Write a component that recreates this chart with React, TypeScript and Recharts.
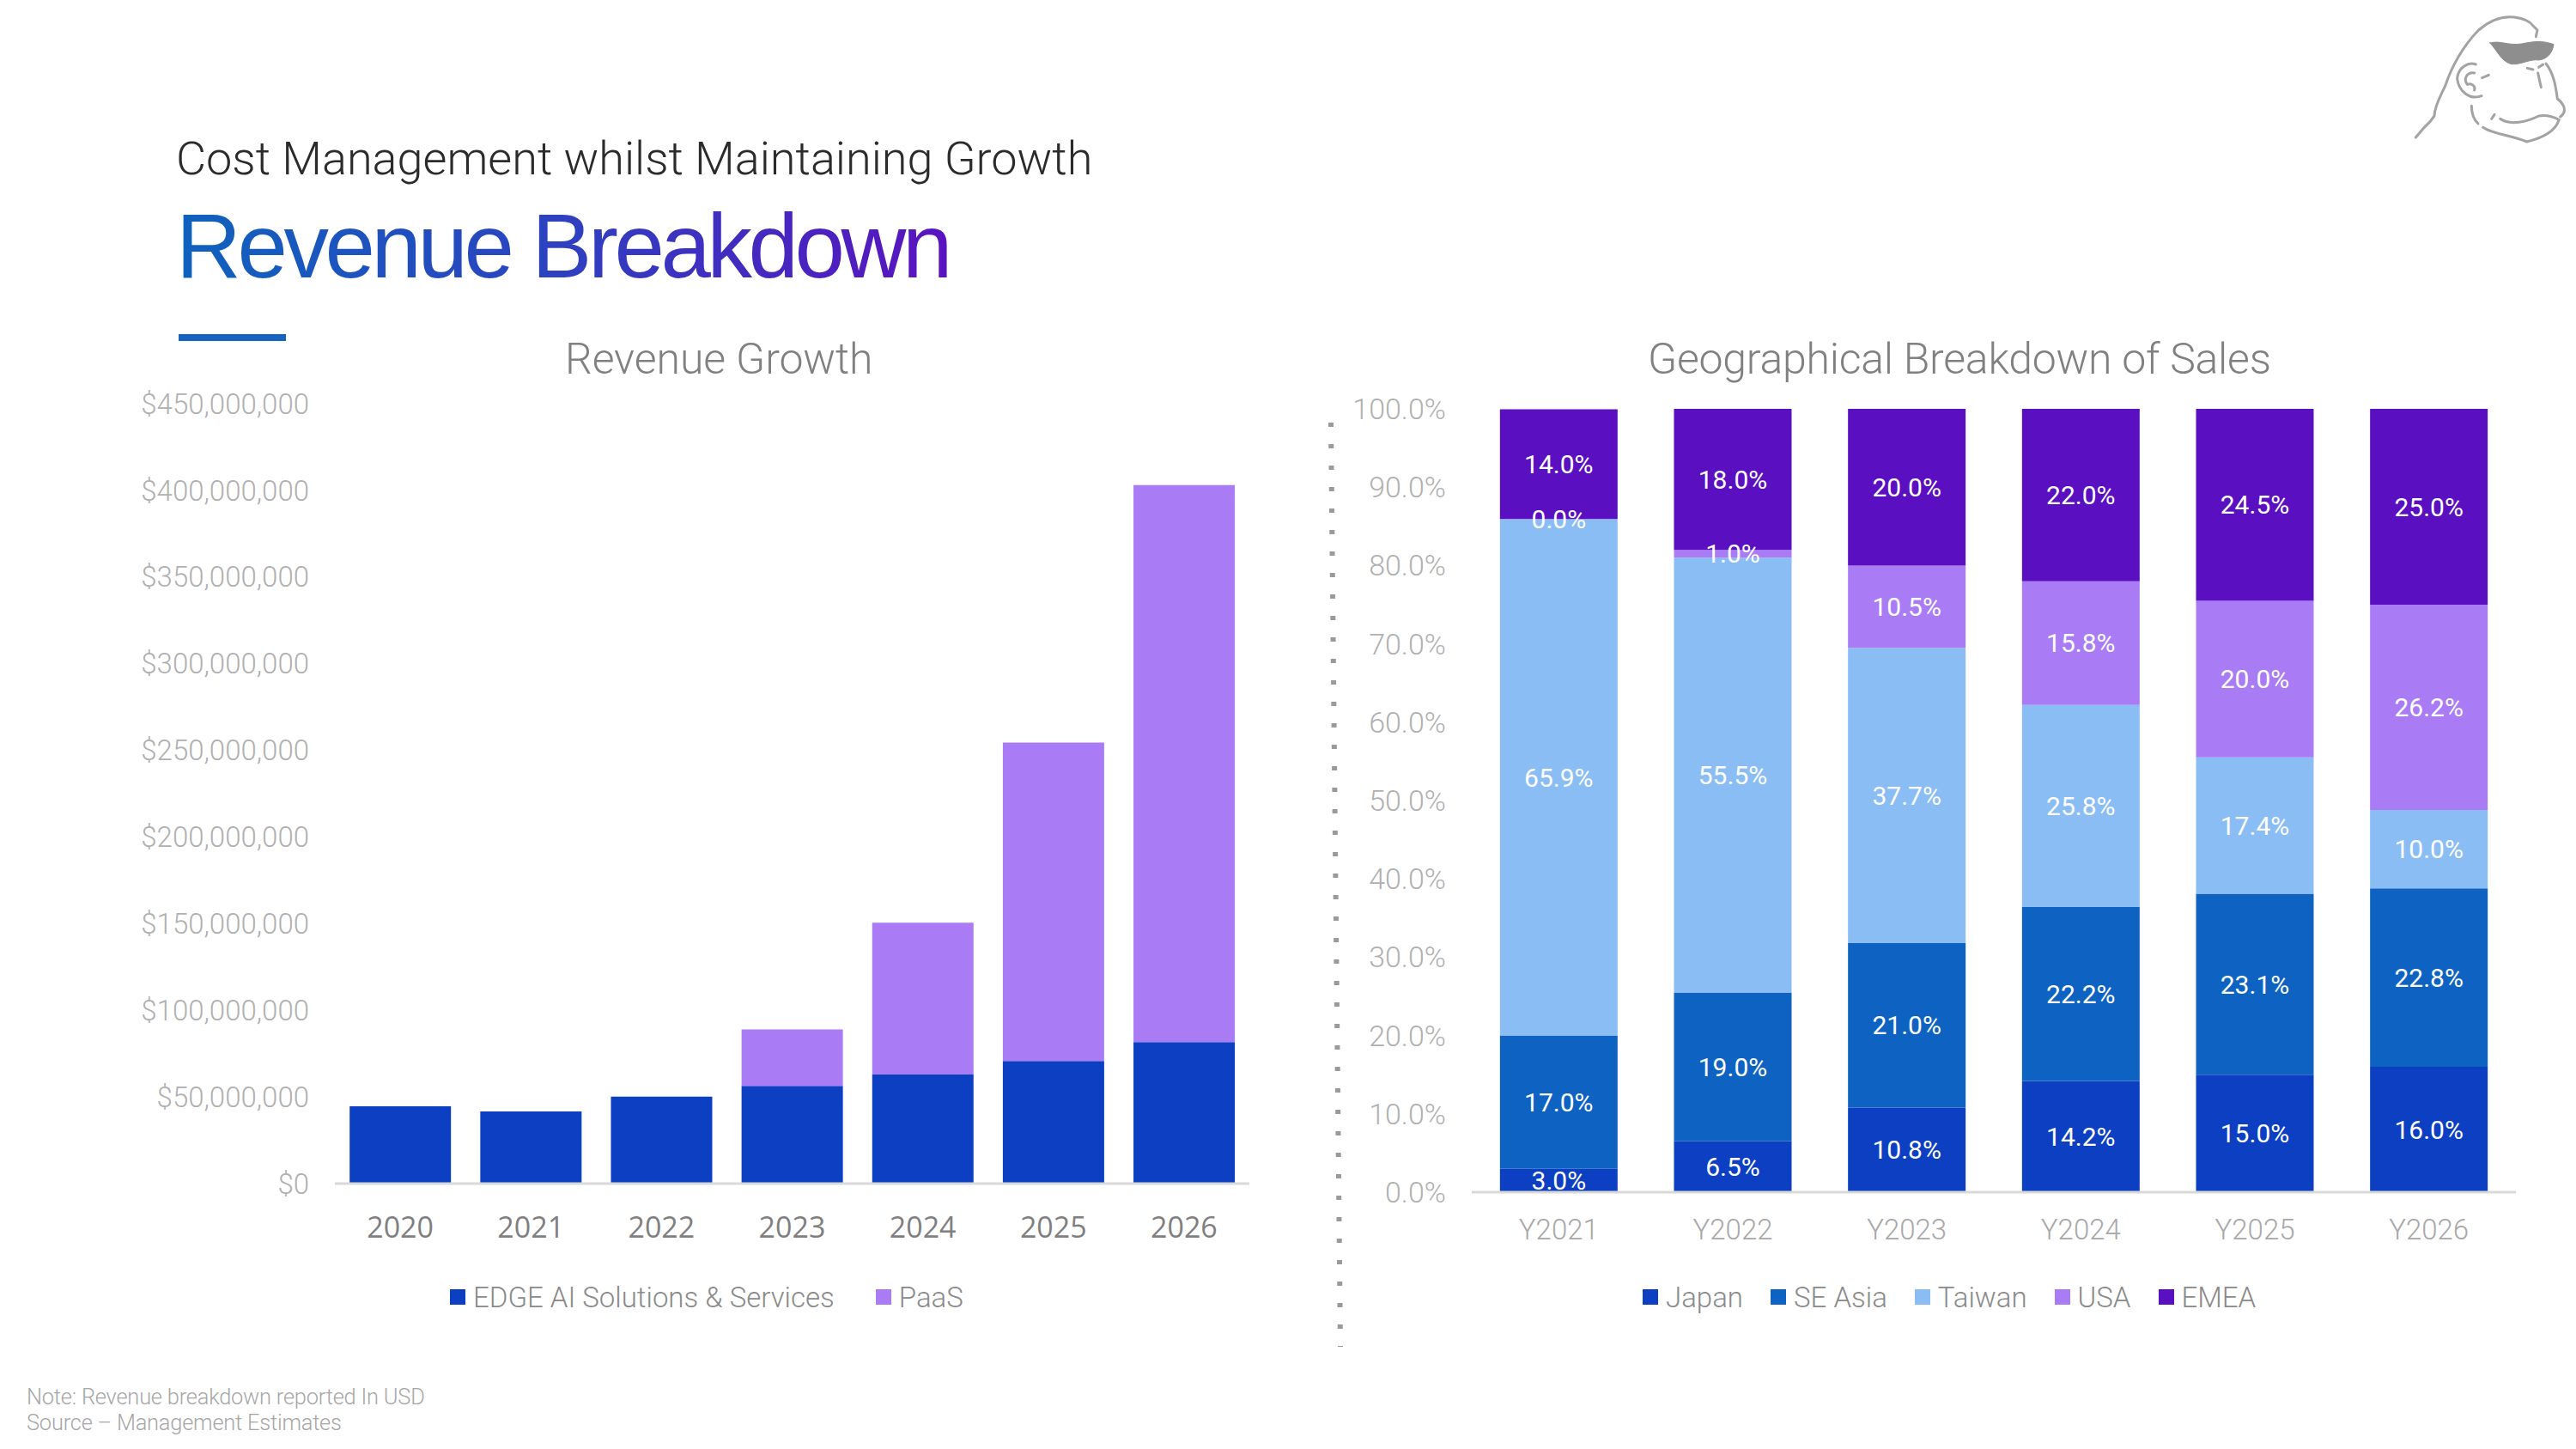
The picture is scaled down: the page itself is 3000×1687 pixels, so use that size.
import { BarChart, Bar, XAxis, YAxis, Legend, LabelList } from 'recharts';

const FONT = 'Roboto, sans-serif';

const YEARS = ['2020', '2021', '2022', '2023', '2024', '2025', '2026'];
const EDGE_AI = [44600000, 41600000, 50200000, 56400000, 63000000, 70800000, 81700000];
const PAAS = [0, 0, 0, 32600000, 87500000, 183700000, 321300000];
const REVENUE_TICKS = [0, 50000000, 100000000, 150000000, 200000000, 250000000, 300000000, 350000000, 400000000, 450000000];

const GEO_YEARS = ['Y2021', 'Y2022', 'Y2023', 'Y2024', 'Y2025', 'Y2026'];
const JAPAN = [3.0, 6.5, 10.8, 14.2, 15.0, 16.0];
const SE_ASIA = [17.0, 19.0, 21.0, 22.2, 23.1, 22.8];
const TAIWAN = [65.9, 55.5, 37.7, 25.8, 17.4, 10.0];
// Y2021 USA reads 0.0%; kept just above zero so the bar keeps its label
const USA = [0.04, 1.0, 10.5, 15.8, 20.0, 26.2];
const EMEA = [14.0, 18.0, 20.0, 22.0, 24.5, 25.0];
const PERCENT_TICKS = [0, 10, 20, 30, 40, 50, 60, 70, 80, 90, 100];

const revenueData = YEARS.map((year, i) => ({ year, edge: EDGE_AI[i], paas: PAAS[i] }));
const geoData = GEO_YEARS.map((year, i) => ({
  year,
  japan: JAPAN[i],
  seAsia: SE_ASIA[i],
  taiwan: TAIWAN[i],
  usa: USA[i],
  emea: EMEA[i],
}));

const GEO_SERIES = [
  { dataKey: 'japan', name: 'Japan', color: '#0d3fc2' },
  { dataKey: 'seAsia', name: 'SE Asia', color: '#0e63c2' },
  { dataKey: 'taiwan', name: 'Taiwan', color: '#8bbdf5' },
  { dataKey: 'usa', name: 'USA', color: '#a97cf5' },
  { dataKey: 'emea', name: 'EMEA', color: '#5a0fc0' },
];

const dollars = (v: number) => `$${v.toLocaleString('en-US')}`;
const percent = (v: number) => `${v.toFixed(1)}%`;

const Text = ({ x, y, size, color, children, weight = 300, spacing = 0 }: any) => (
  <div
    style={{
      position: 'absolute',
      left: x,
      top: y,
      fontFamily: FONT,
      fontSize: size,
      fontWeight: weight,
      color,
      letterSpacing: spacing,
      lineHeight: 1,
      whiteSpace: 'nowrap',
    }}
  >
    {children}
  </div>
);

const legendContent = (gap: number) => ({ payload }: any) => (
  <div style={{ display: 'flex', alignItems: 'center', height: 40, fontFamily: FONT, fontWeight: 300, fontSize: 33, color: '#8a8a8a' }}>
    {(payload || []).map((item: any) => (
      <div key={item.value} style={{ display: 'flex', alignItems: 'center', marginRight: gap }}>
        <div style={{ width: 18, height: 18, background: item.color, marginRight: 9 }} />
        <span>{item.value}</span>
      </div>
    ))}
  </div>
);

const Logo = () => (
  <svg
    viewBox="0 0 660 540"
    width={220}
    height={180}
    style={{ position: 'absolute', left: 2780, top: 0 }}
    fill="none"
    stroke="#a3a3a3"
    strokeWidth={9}
    strokeLinecap="round"
    strokeLinejoin="round"
  >
    <path d="M100 480 L130 445 L150 425 L165 405 C165 370 190 330 205 295 C225 235 265 160 320 105 C360 70 405 55 445 60 C480 65 500 75 510 90 L525 105 L520 128" />
    <path d="M360 150 C395 140 420 160 470 153 C510 145 540 140 582 155 C578 180 565 205 530 210 C500 205 470 226 435 224 C400 216 385 178 360 150 Z" fill="#8e8e8e" stroke="#8e8e8e" strokeWidth={3} />
    <path d="M330 335 C290 350 250 320 245 275 C248 235 285 215 310 225" />
    <path d="M305 255 C280 250 265 275 280 295 C295 290 310 300 305 315" />
    <path d="M332 272 L355 262" />
    <path d="M490 238 L510 243 M530 235 L545 225" />
    <path d="M527 255 L538 305" />
    <path d="M555 222 C585 260 590 310 595 345 C620 365 630 390 605 408" />
    <path d="M395 415 C430 440 490 425 530 405 C560 400 585 410 600 418" />
    <path d="M365 415 L375 400" />
    <path d="M295 370 C295 400 305 420 318 432" />
    <path d="M335 445 C370 470 430 470 488 495 C530 485 585 465 600 420" />
  </svg>
);

export default function App() {
  return (
    <div style={{ position: 'absolute', left: 0, top: 0, width: 3000, height: 1687, background: '#fff', overflow: 'hidden' }}>
      <Text x={205} y={158} size={54} color="#2b2b2b">Cost Management whilst Maintaining Growth</Text>
      <div
        style={{
          position: 'absolute',
          left: 205,
          top: 229,
          fontFamily: '"Liberation Sans", sans-serif',
          fontSize: 105,
          lineHeight: 1.1,
          letterSpacing: -4.4,
          whiteSpace: 'nowrap',
          background: 'linear-gradient(90deg, #0f62bd 0%, #2a45c0 45%, #5a12c0 100%)',
          WebkitBackgroundClip: 'text',
          backgroundClip: 'text',
          color: 'transparent',
        }}
      >
        Revenue Breakdown
      </div>
      <div style={{ position: 'absolute', left: 208, top: 389, width: 125, height: 8, background: '#1565c0' }} />

      <Text x={658} y={393} size={50} color="#808080" spacing={-0.1}>Revenue Growth</Text>
      <Text x={1919} y={393} size={50} color="#808080" spacing={-0.25}>Geographical Breakdown of Sales</Text>

      <svg width={3000} height={1687} style={{ position: 'absolute', left: 0, top: 0 }}>
        <line x1={1550} y1={492} x2={1561} y2={1568} stroke="#9a9a9a" strokeWidth={6} strokeDasharray="5 20" />
      </svg>

      <div style={{ position: 'absolute', left: 0, top: 0 }}>
        <BarChart
          width={1500}
          height={1687}
          data={revenueData}
          barCategoryGap="11.3%"
          margin={{ top: 470, right: 45, bottom: 157, left: 90 }}
        >
          <XAxis
            dataKey="year"
            height={112}
            tickLine={false}
            tickMargin={33}
            axisLine={{ stroke: '#d9d9d9', strokeWidth: 3 }}
            tick={{ fill: '#7f7f7f', fontSize: 34, fontFamily: '"Open Sans", sans-serif' }}
          />
          <YAxis
            width={300}
            domain={[0, 450000000]}
            ticks={REVENUE_TICKS}
            interval={0}
            tickFormatter={dollars}
            axisLine={false}
            tickLine={false}
            tickMargin={24}
            tick={{ fill: '#b0b0b0', fontSize: 33, fontFamily: FONT, fontWeight: 300 }}
          />
          <Legend
            verticalAlign="bottom"
            itemSorter={null}
            content={legendContent(48)}
            wrapperStyle={{ left: 524, width: 800, height: 40 }}
          />
          <Bar dataKey="edge" name="EDGE AI Solutions & Services" stackId="a" fill="#0d3fc2" isAnimationActive={false} />
          <Bar dataKey="paas" name="PaaS" stackId="a" fill="#a97cf5" isAnimationActive={false} />
        </BarChart>
      </div>

      <div style={{ position: 'absolute', left: 1500, top: 0 }}>
        <BarChart
          width={1500}
          height={1687}
          data={geoData}
          barCategoryGap="16.2%"
          margin={{ top: 476, right: 70, bottom: 157, left: 14 }}
        >
          <XAxis
            dataKey="year"
            height={102}
            tickLine={false}
            tickMargin={26}
            axisLine={{ stroke: '#d9d9d9', strokeWidth: 3 }}
            tick={{ fill: '#a8a8a8', fontSize: 33, fontFamily: FONT, fontWeight: 300 }}
          />
          <YAxis
            width={200}
            domain={[0, 100]}
            ticks={PERCENT_TICKS}
            interval={0}
            tickFormatter={percent}
            axisLine={false}
            tickLine={false}
            tickMargin={24}
            tick={{ fill: '#b0b0b0', fontSize: 34, fontFamily: FONT, fontWeight: 300 }}
          />
          <Legend
            verticalAlign="bottom"
            itemSorter={null}
            content={legendContent(32)}
            wrapperStyle={{ left: 413, width: 900, height: 40 }}
          />
          {GEO_SERIES.map((s) => (
            <Bar key={s.dataKey} dataKey={s.dataKey} name={s.name} stackId="g" fill={s.color} isAnimationActive={false}>
              <LabelList
                dataKey={s.dataKey}
                position="center"
                formatter={percent}
                fill="#ffffff"
                fontSize={30}
                fontFamily={FONT}
              />
            </Bar>
          ))}
        </BarChart>
      </div>

      <Logo />

      <Text x={31} y={1614} size={25.4} color="#a6a6a6" spacing={-0.2}>Note: Revenue breakdown reported In USD</Text>
      <Text x={31} y={1644} size={25.4} color="#a6a6a6" spacing={-0.2}>Source – Management Estimates</Text>
    </div>
  );
}
